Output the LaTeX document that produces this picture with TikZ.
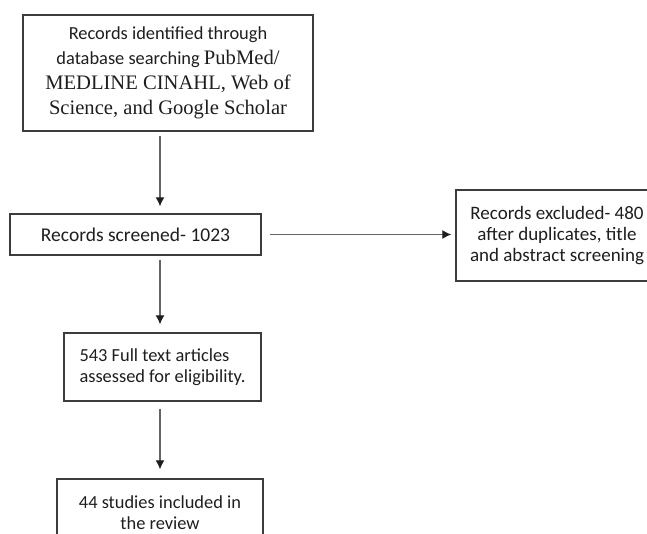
\documentclass[tikz,border=0pt]{standalone}
\usepackage{fontspec}
\setmainfont{Carlito}
\newfontfamily\timesrm{Liberation Serif}
\usetikzlibrary{arrows.meta}
\definecolor{boxgray}{RGB}{60,60,60}
\definecolor{linegray}{RGB}{100,100,100}
\definecolor{txtgray}{RGB}{30,30,30}
\newcommand{\tnr}[1]{{\timesrm\fontsize{20.6}{25}\selectfont #1}}
\tikzstyle{block} = [rectangle, draw=boxgray, line width=1.4pt, inner sep=0pt,
    text=txtgray, align=center, font=\fontsize{18.4}{21}\selectfont]
\tikzstyle{line} = [draw=linegray, line width=1.2pt,
    -{Latex[length=9pt,width=9pt,color=txtgray]}]

\begin{document}
\begin{tikzpicture}[x=1pt, y=-1pt]
        \useasboundingbox (0,0) rectangle (647,533);
        \clip (0,0) rectangle (647,533);
        % Place nodes
        % 1. Identification of records
        \node [block, minimum width=290pt, minimum height=116pt,
            font=\fontsize{18.4}{25}\selectfont] (iden) at (168,73)
            {Records identified through\\database searching \tnr{PubMed/}\\
             \tnr{MEDLINE CINAHL, Web of}\\\tnr{Science, and Google Scholar}};
        
        % 2. Screening (+ excluded records on the right)
        \node [block, minimum width=251pt, minimum height=41pt,
            font=\fontsize{19.5}{21}\selectfont] (scre) at (135.5,234.5)
            {Records screened- 1023};
        \node [block, minimum width=202pt, minimum height=91pt,
            font=\fontsize{19}{21}\selectfont] (excl) at (557,235.5)
            {Records excluded- 480\\after duplicates, title\\and abstract screening};
        
        % 3. Eligibility
        \node [block, minimum width=197pt, minimum height=68pt, align=left] (full) at (162.5,367)
            {543 Full text articles\\assessed for eligibility.};
        
        % 4. Included studies
        \node [block, minimum width=206pt, minimum height=68pt] (incl) at (160,513)
            {44 studies included in\\the review};
        
        \coordinate (spin) at (160,0); % virtual spine for the vertical arrows
    
        % Draw edges
        \path [line, shorten <=4pt, shorten >=7pt] (iden.south -| spin) -- (scre.north -| spin);
        \path [line, shorten <=8pt, shorten >=4pt] (scre.east) -- (scre.east -| excl.west);
        \path [line, shorten <=4pt, shorten >=8pt] (scre.south -| spin) -- (full.north -| spin);
        \path [line, shorten <=7pt, shorten >=9pt] (full.south -| spin) -- (incl.north -| spin);
        
      \end{tikzpicture}
\end{document}
